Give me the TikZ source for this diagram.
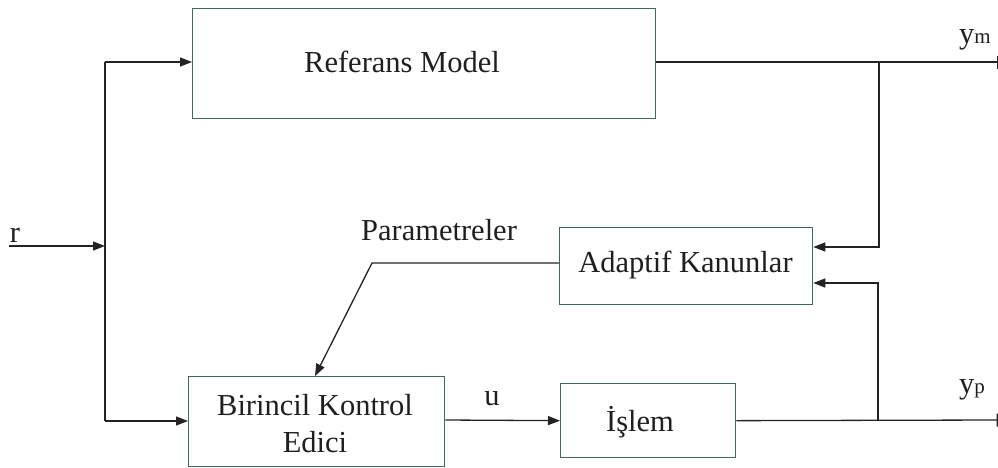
\documentclass[tikz,border=0pt]{standalone}
\usepackage{fontspec}
\setmainfont{Liberation Serif}
\usetikzlibrary{arrows.meta}
\definecolor{boxline}{RGB}{62,108,84}
\definecolor{wire}{RGB}{35,35,35}
\newcommand{\bigtxt}{\fontsize{30.5}{36}\selectfont}
\newcommand{\subtxt}{\fontsize{21}{24}\selectfont}
\begin{document}
\begin{tikzpicture}[x=1pt,y=-1pt,
  blockbox/.style={draw=boxline,line width=1.3pt,fill=white,inner sep=0pt,anchor=north west},
  lbl/.style={inner sep=0pt,anchor=base,font=\bigtxt,text=black!88},
  conn/.style={draw=wire,line width=1.3pt},
  arr/.style={conn,-{Triangle[length=12pt,width=9pt]}},
  outbar/.style={conn,-{Bar[width=13pt,line width=1.3pt]}}]
\useasboundingbox (0,0) rectangle (998,467);

% blocks
\node[blockbox,minimum width=463pt,minimum height=110pt] (ref) at (192,8) {};
\node[blockbox,minimum width=253pt,minimum height=77pt] (adapt) at (559,227) {};
\node[blockbox,minimum width=256pt,minimum height=90pt] (pid) at (188,376) {};
\node[blockbox,minimum width=175pt,minimum height=74pt] (plant) at (560,383) {};

% block texts
\node[lbl] (reftxt) at (402,72) {Referans Model};
\node[lbl] (adapttxt) at (685.5,272) {Adaptif Kanunlar};
\node[lbl] (pidtxt1) at (315,415) {Birincil Kontrol};
\node[lbl] (pidtxt2) at (315,452) {Edici};
\node[lbl] (planttxt) at (640,431) {İşlem};

% signal labels
\node[lbl] (rtxt) at (15,242) {r};
\node[lbl] (utxt) at (492,405) {u};
\node[lbl] (partxt) at (439,240) {Parametreler};
\node[lbl,anchor=base west] (ymtxt) at (959,43) {y\subtxt m};
\node[lbl,anchor=base west] (yptxt) at (959,393) {y\subtxt p};

% junction points
\coordinate (rin) at (9,246);
\coordinate (rsplit) at (105,246);
\coordinate (rtop) at (105,62);
\coordinate (rbot) at (105,421);
\coordinate (ymend) at (998,62);
\coordinate (ymsplit) at (879,62);
\coordinate (ypend) at (998,420);
\coordinate (ypsplit) at (878,420);
\coordinate (parbend) at (372,263);
\coordinate (parend) at (315,376);

% reference input and its branches
\draw[arr] (rin) -- (rsplit);
\draw[conn] (rtop) -- (rbot);
\draw[arr] (rtop) -- (ref.west |- rtop);
\draw[arr] (rbot) -- (pid.west |- rbot);

% model output
\draw[outbar] (ref.east |- rtop) -- (ymend);
\draw[arr] (ymsplit) |- (adapt.east |- 0,247);

% controller to plant and plant output
\draw[arr] (pid.east |- 0,420) -- (plant.west);
\draw[outbar] (plant.east) -- (ypend);
\draw[arr] (ypsplit) |- (adapt.east |- 0,283);

% parameter update
\draw[arr] (adapt.west |- parbend) -- (parbend) -- (parend);
\end{tikzpicture}
\end{document}
